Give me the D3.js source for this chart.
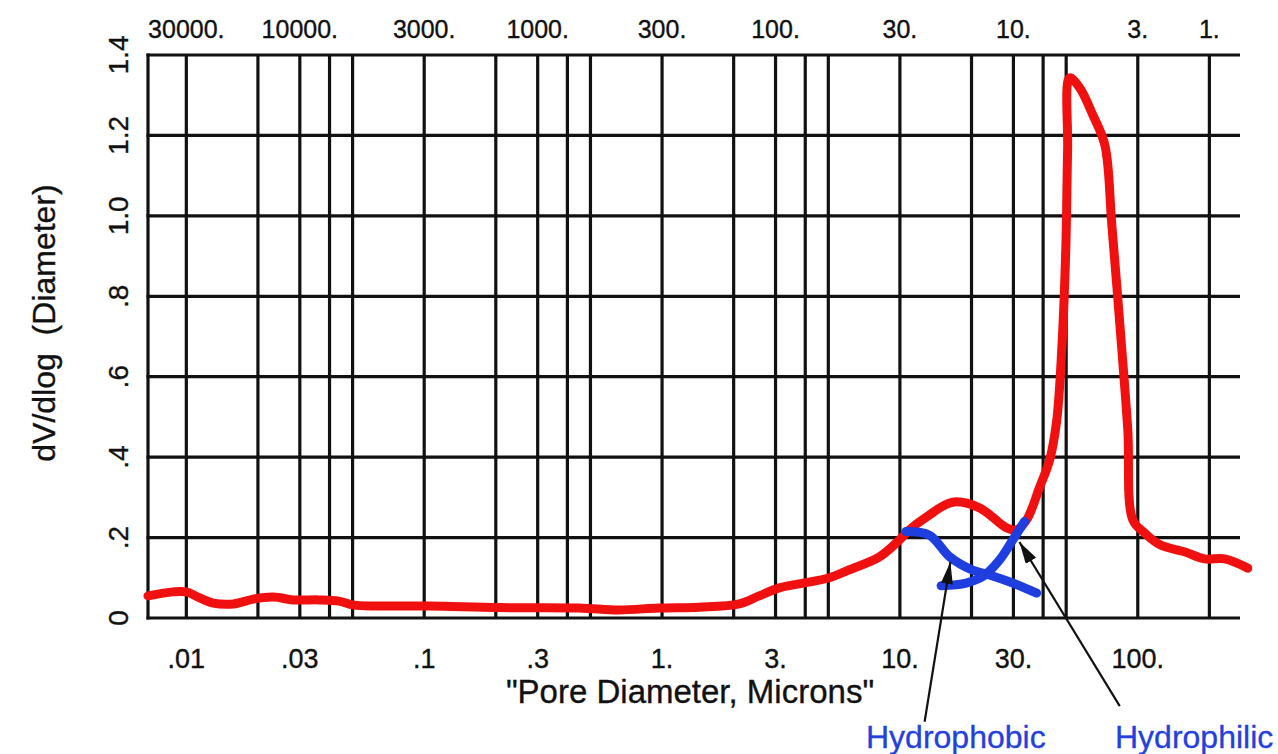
<!DOCTYPE html>
<html>
<head>
<meta charset="utf-8">
<script src="https://cdn.jsdelivr.net/npm/d3@7"></script>
<style>
  body { margin: 0; background: #fff; }
  text { font-family: "Liberation Sans", Arial, Helvetica, sans-serif; fill: #111; stroke: #111; stroke-width: 0.35px; white-space: pre; }
</style>
</head>
<body>
<svg width="1278" height="754"></svg>
<script>
// pore diameter (microns) where the vertical grid lines sit
const gridDiameters = [0.01, 0.02, 0.03, 0.04, 0.05, 0.1, 0.2, 0.3, 0.4, 0.5,
  1, 2, 3, 4, 5, 10, 20, 30, 40, 50, 100, 200];

const bottomTicks = [0.01, 0.03, 0.1, 0.3, 1, 3, 10, 30, 100];
const bottomLabels = ['.01', '.03', '.1', '.3', '1.', '3.', '10.', '30.', '100.'];

// pressure labels along the top, sitting over these diameters
const topTicks = [0.01, 0.03, 0.1, 0.3, 1, 3, 10, 30, 100, 200];
const topLabels = ['30000.', '10000.', '3000.', '1000.', '300.', '100.', '30.', '10.', '3.', '1.'];

const yTicks = [0, 0.2, 0.4, 0.6, 0.8, 1.0, 1.2, 1.4];
const yLabels = ['0', '.2', '.4', '.6', '.8', '1.0', '1.2', '1.4'];

// red curve: [diameter, dV/dlog]
const poreCurve = [
  [0.0069, 0.055], [0.0088, 0.065], [0.010, 0.065], [0.0112, 0.052], [0.013, 0.037],
  [0.0158, 0.035], [0.0191, 0.047], [0.0232, 0.052], [0.0282, 0.045], [0.036, 0.045],
  [0.0437, 0.042], [0.0505, 0.032], [0.0643, 0.030], [0.1045, 0.030], [0.206, 0.026],
  [0.447, 0.025], [0.659, 0.020], [0.971, 0.025], [1.43, 0.027], [2.11, 0.035],
  [2.56, 0.055], [3.11, 0.075], [3.77, 0.085], [5.05, 0.100], [6.13, 0.120],
  [8.2, 0.152], [9.95, 0.194], [10.96, 0.219], [12.93, 0.251], [16.64, 0.288],
  [21.6, 0.274], [28.1, 0.224], [30.9, 0.219], [34.1, 0.244], [38.7, 0.326],
  [42.6, 0.393], [45.6, 0.49], [47.9, 0.667], [49.8, 0.915], [50.7, 1.164],
  [51.7, 1.343], [57.0, 1.318], [64.7, 1.251], [72.7, 1.176], [77.8, 0.977],
  [85.7, 0.667], [90.8, 0.468], [95.3, 0.244], [107, 0.211], [124, 0.182],
  [158, 0.164], [191, 0.147], [232, 0.147], [290, 0.124]
];

const hydrophobic = [
  [10.6, 0.215], [13.3, 0.206], [16.2, 0.152], [20.2, 0.119],
  [23.8, 0.107], [29.8, 0.087], [37.6, 0.062]
];

const hydrophilic = [
  [14.9, 0.080], [19.0, 0.087], [22.3, 0.103], [26.2, 0.144],
  [29.8, 0.194], [33.4, 0.240]
];

// arrow tip and tail in data units
const notes = [
  { label: 'Hydrophobic', tip: [16.3, 0.139], tail: [12.7, -0.258] },
  { label: 'Hydrophilic', tip: [31.8, 0.189], tail: [84, -0.219] }
];

const svg = d3.select('svg');

const x = d3.scaleLog().domain([0.0069, 269]).range([148, 1240]);
const y = d3.scaleLinear().domain([0, 1.4]).range([618, 55]);

const grid = svg.append('g')
  .attr('stroke', '#111')
  .attr('stroke-width', 3.2);

grid.selectAll('.vline')
  .data(gridDiameters)
  .enter().append('line')
  .attr('x1', d => x(d)).attr('x2', d => x(d))
  .attr('y1', y(1.4)).attr('y2', y(0));

grid.selectAll('.hline')
  .data(yTicks)
  .enter().append('line')
  .attr('x1', x.range()[0] - 1.5).attr('x2', x.range()[1])
  .attr('y1', d => y(d)).attr('y2', d => y(d));

grid.append('line')
  .attr('x1', x.range()[0]).attr('x2', x.range()[0])
  .attr('y1', y(1.4) - 1.5).attr('y2', y(0) + 1.5);

// tick labels
svg.append('g').selectAll('text')
  .data(bottomTicks)
  .enter().append('text')
  .attr('x', d => x(d))
  .attr('y', 668)
  .attr('text-anchor', 'middle')
  .style('font-size', '27px')
  .text((d, i) => bottomLabels[i]);

svg.append('g').selectAll('text')
  .data(topTicks)
  .enter().append('text')
  .attr('x', d => x(d))
  .attr('y', 38)
  .attr('text-anchor', 'middle')
  .style('font-size', '25px')
  .text((d, i) => topLabels[i]);

svg.append('g').selectAll('text')
  .data(yTicks)
  .enter().append('text')
  .attr('transform', d => `translate(128, ${y(d)}) rotate(-90)`)
  .attr('text-anchor', 'middle')
  .style('font-size', '28px')
  .text((d, i) => yLabels[i]);

// axis titles
svg.append('text')
  .attr('transform', 'translate(55, 323) rotate(-90)')
  .attr('text-anchor', 'middle')
  .style('font-size', '32px')
  .text('dV/dlog  (Diameter)');

svg.append('text')
  .attr('x', 690)
  .attr('y', 703)
  .attr('text-anchor', 'middle')
  .style('font-size', '33px')
  .text('"Pore Diameter, Microns"');

// curves
const line = d3.line()
  .x(d => x(d[0]))
  .y(d => y(d[1]))
  .curve(d3.curveCatmullRom.alpha(0.5));

svg.append('path')
  .datum(poreCurve)
  .attr('fill', 'none')
  .attr('stroke', '#f01010')
  .attr('stroke-width', 9)
  .attr('stroke-linejoin', 'round')
  .attr('stroke-linecap', 'round')
  .attr('d', line);

[hydrophobic, hydrophilic].forEach(s => {
  svg.append('path')
    .datum(s)
    .attr('fill', 'none')
    .attr('stroke', '#1e3ee0')
    .attr('stroke-width', 9)
    .attr('stroke-linejoin', 'round')
    .attr('stroke-linecap', 'round')
    .attr('d', line);
});

// annotations
svg.append('defs').append('marker')
  .attr('id', 'head')
  .attr('markerUnits', 'userSpaceOnUse')
  .attr('markerWidth', 22).attr('markerHeight', 12)
  .attr('refX', 22).attr('refY', 6)
  .attr('orient', 'auto')
  .append('path')
  .attr('d', 'M0,0 L22,6 L0,12 Z')
  .attr('fill', '#111');

svg.append('g').selectAll('line')
  .data(notes)
  .enter().append('line')
  .attr('x1', d => x(d.tail[0])).attr('y1', d => y(d.tail[1]))
  .attr('x2', d => x(d.tip[0])).attr('y2', d => y(d.tip[1]))
  .attr('stroke', '#111')
  .attr('stroke-width', 2.2)
  .attr('marker-end', 'url(#head)');

svg.append('g').selectAll('text')
  .data(notes)
  .enter().append('text')
  .attr('x', (d, i) => i === 0 ? 866 : 1115)
  .attr('y', 748)
  .style('font-size', '32px')
  .style('fill', '#2440dd')
  .style('stroke', '#2440dd')
  .style('stroke-width', '0.3px')
  .text(d => d.label);
</script>
</body>
</html>
